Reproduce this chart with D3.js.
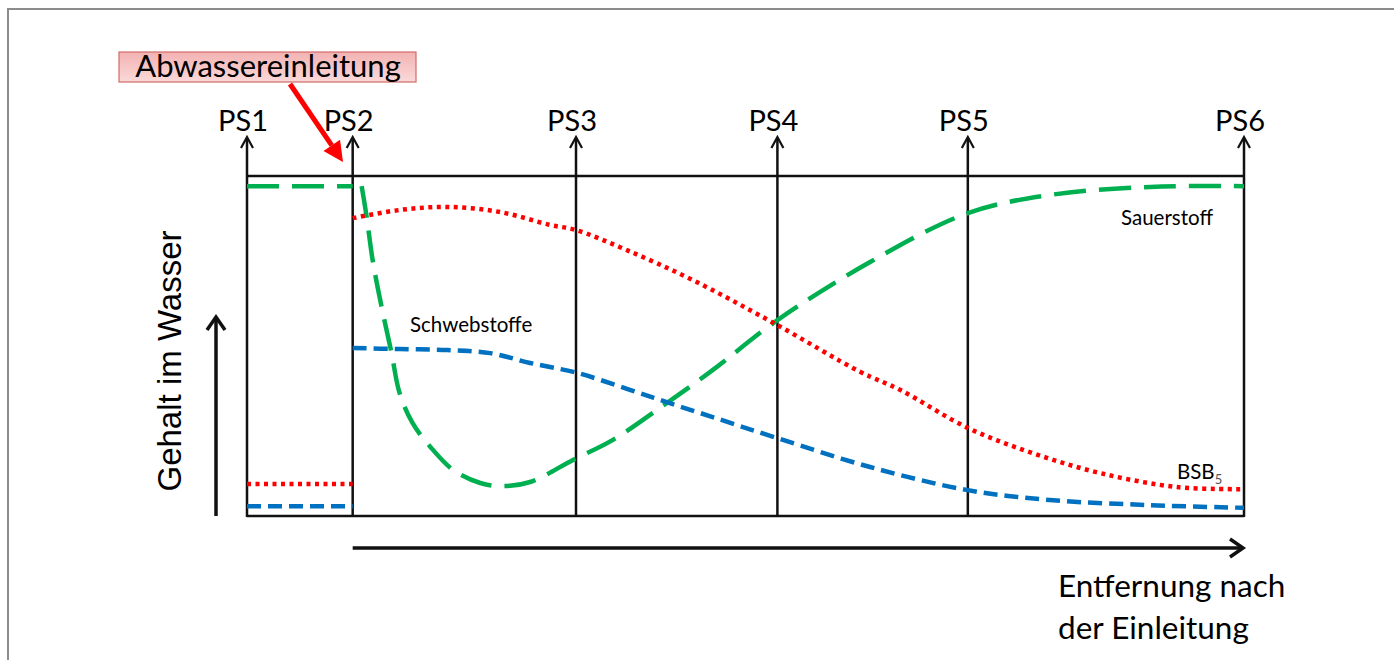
<!DOCTYPE html>
<html><head><meta charset="utf-8">
<script src="https://cdn.jsdelivr.net/npm/d3@7"></script>
<style>html,body{margin:0;padding:0;background:#fff;overflow:hidden}</style>
</head><body>
<svg id="c" width="1394" height="660"></svg>
<script>
// ---- data ----
const stationLabels = ["PS1","PS2","PS3","PS4","PS5","PS6"];
const stationPos = [0, 10.6, 33, 53.2, 72.3, 100];
const oxygenBefore = [[0,97],[10.6,97]];
const oxygen = [[11.5,97],[12.0,88],[12.6,75.3],[13.5,61.5],[14.5,47.9],[15.3,36.2],[16.6,27.4],[18.4,20.3],[20.7,13.5],[23.4,9.7],[25.7,8.8],[28.4,10],[32.7,16.5],[36.7,22.4],[42.1,33.2],[46.7,42.9],[53.2,57.6],[62.5,74.7],[72.3,89.1],[80.5,94.4],[90.6,96.8],[100,97]];
const bsbBefore = [[0,9.4],[10.6,9.4]];
const bsb = [[10.6,87.6],[15.3,90],[20.1,90.9],[25.4,89.4],[30.4,85.6],[33,84.1],[38.1,78.2],[44.7,69.4],[52.8,56.8],[61.5,42.4],[65.5,37.1],[72.3,25.9],[78.8,18.5],[85.6,12.6],[93.3,8.5],[100,7.9]];
const solidsBefore = [[0,2.9],[10.6,2.9]];
const solids = [[10.6,49.4],[15.3,49.1],[20.1,48.8],[24.4,47.9],[28.4,45],[33.1,42.1],[38.4,37.1],[42.4,33.2],[46.7,29.1],[53.2,22.9],[62.5,14.4],[72.3,7.6],[80.5,4.7],[90.6,3.2],[100,2.4]];
const seriesLabels = ["Sauerstoff","BSB","Schwebstoffe"];
const yLabel = "Gehalt im Wasser";
const xLabel = ["Entfernung nach","der Einleitung"];
const annotation = "Abwassereinleitung";

// ---- drawing ----
const svg = d3.select("#c");
const x = d3.scaleLinear().domain([0,100]).range([247,1244]);
const y = d3.scaleLinear().domain([0,100]).range([516,176]);
const calibri = "Lato, 'Open Sans', sans-serif";

// outer grey frame
svg.append("rect").attr("x",8).attr("y",9).attr("width",1400).attr("height",700)
  .attr("fill","none").attr("stroke","#8c8c8c").attr("stroke-width",2);

const arrowTop = 137;
function chevronUp(g, cx, ty){
  g.append("path").attr("d",`M${cx-6},${ty+11} L${cx},${ty} L${cx+6},${ty+11}`)
   .attr("fill","none").attr("stroke","#111").attr("stroke-width",2.2);
}

// box top & bottom
svg.append("line").attr("x1",x(0)).attr("x2",x(100)).attr("y1",y(100)).attr("y2",y(100)).attr("stroke","#111").attr("stroke-width",2.5);
svg.append("line").attr("x1",x(0)).attr("x2",x(100)).attr("y1",y(0)).attr("y2",y(0)).attr("stroke","#111").attr("stroke-width",2.5);

// station lines with arrows
const st = svg.append("g");
stationPos.forEach((p,i)=>{
  st.append("line").attr("x1",x(p)).attr("x2",x(p)).attr("y1",y(0)+1).attr("y2",arrowTop+1)
    .attr("stroke","#111").attr("stroke-width",2.5);
  chevronUp(st, x(p), arrowTop);
  st.append("text").attr("x",x(p)-4).attr("y",131).attr("text-anchor","middle")
    .attr("font-family",calibri).attr("font-size",29).attr("fill","#000").text(stationLabels[i]);
});

// curves
const line = d3.line().x(d=>x(d[0])).y(d=>y(d[1]));
const lineC = d3.line().x(d=>x(d[0])).y(d=>y(d[1])).curve(d3.curveCatmullRom.alpha(0.5));
const green="#00b050", red="#ff0000", blue="#0070c0";
function draw(data, color, dash, w, gen){
  svg.append("path").attr("d",(gen||line)(data)).attr("fill","none").attr("stroke",color)
    .attr("stroke-width",w).attr("stroke-dasharray",dash);
}
draw(oxygenBefore, green, "32,13", 4.5);
draw(oxygen, green, "32,13", 4.5, lineC);
draw(bsbBefore, red, "4,4.5", 4.5);
draw(bsb, red, "4,4.5", 4.5, lineC);
draw(solidsBefore, blue, "14,7", 4.5);
draw(solids, blue, "14,7", 4.5, lineC);

// series labels
svg.append("text").attr("x",1121).attr("y",225).attr("font-family",calibri).attr("font-size",20.5).text(seriesLabels[0]);
const b = svg.append("text").attr("x",1177).attr("y",479).attr("font-family",calibri).attr("font-size",20.5).text(seriesLabels[1]);
b.append("tspan").attr("font-size",13).attr("dy",5).attr("fill","#555").text("5");
svg.append("text").attr("x",410).attr("y",332).attr("font-family",calibri).attr("font-size",20.5).text(seriesLabels[2]);

// y axis arrow
svg.append("line").attr("x1",216).attr("x2",216).attr("y1",y(0)).attr("y2",318).attr("stroke","#111").attr("stroke-width",3.5);
svg.append("path").attr("d","M207,330 L216,317 L225,330").attr("fill","none").attr("stroke","#111").attr("stroke-width",3.5);
svg.append("text").attr("transform","translate(181,361) rotate(-90)").attr("text-anchor","middle")
  .attr("font-family","'Liberation Sans', Arial, sans-serif").attr("font-size",33).text(yLabel);

// x axis arrow
svg.append("line").attr("x1",x(10.6)).attr("x2",1242).attr("y1",548).attr("y2",548).attr("stroke","#111").attr("stroke-width",3.5);
svg.append("path").attr("d","M1230,539 L1243,548 L1230,557").attr("fill","none").attr("stroke","#111").attr("stroke-width",3.5);
xLabel.forEach((t,i)=>{
  svg.append("text").attr("x",1058).attr("y",597+i*42).attr("font-family",calibri).attr("font-size",31.5).text(t);
});

// annotation box
const defs = svg.append("defs");
const gr = defs.append("linearGradient").attr("id","pk").attr("x1",0).attr("x2",0).attr("y1",0).attr("y2",1);
gr.append("stop").attr("offset","0%").attr("stop-color","#f3b2b2");
gr.append("stop").attr("offset","100%").attr("stop-color","#fbd9d9");
svg.append("rect").attr("x",119).attr("y",52).attr("width",297).attr("height",30)
  .attr("fill","url(#pk)").attr("stroke","#d36a6a").attr("stroke-width",1.2);
svg.append("text").attr("x",268).attr("y",77).attr("text-anchor","middle")
  .attr("font-family",calibri).attr("font-size",31).text(annotation);

// red arrow
const ax0=290, ay0=84, ax1=343, ay1=162;
const ang = Math.atan2(ay1-ay0, ax1-ax0);
const hl=20, hw=10;
const bx = ax1 - hl*Math.cos(ang), by = ay1 - hl*Math.sin(ang);
svg.append("line").attr("x1",ax0).attr("y1",ay0).attr("x2",bx).attr("y2",by).attr("stroke",red).attr("stroke-width",5);
svg.append("path").attr("d",`M${ax1},${ay1} L${bx+hw*Math.sin(ang)},${by-hw*Math.cos(ang)} L${bx-hw*Math.sin(ang)},${by+hw*Math.cos(ang)} Z`).attr("fill",red);
</script>
</body></html>
